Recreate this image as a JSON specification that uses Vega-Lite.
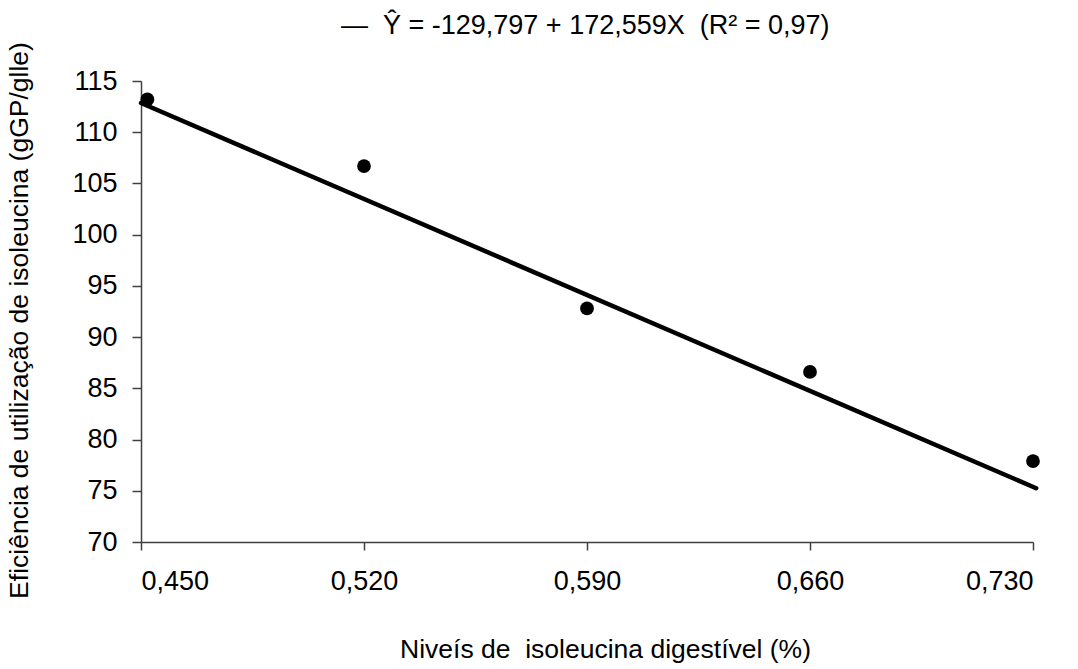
{
  "$schema": "https://vega.github.io/schema/vega-lite/v6.json",
  "width": 892,
  "height": 461,
  "autosize": "none",
  "padding": {"left": 141, "top": 81, "right": 45, "bottom": 127},
  "background": "white",
  "config": {"view": {"stroke": null}, "font": "Liberation Sans"},
  "title": {
    "text": "— \u00a0Ŷ = -129,797 + 172,559X \u00a0(R² = 0,97)",
    "anchor": "start",
    "frame": "group",
    "dx": 200,
    "offset": 2,
    "fontSize": 27,
    "fontWeight": "normal",
    "font": "Liberation Sans",
    "color": "black"
  },
  "datasets": {
    "pts": [
      {"x": 0.452, "y": 113.2},
      {"x": 0.520, "y": 106.7},
      {"x": 0.590, "y": 92.8},
      {"x": 0.660, "y": 86.6},
      {"x": 0.730, "y": 77.9}
    ],
    "fit": [
      {"x": 0.450, "y": 112.85},
      {"x": 0.731, "y": 75.25}
    ]
  },
  "encoding": {
    "x": {
      "field": "x", "type": "quantitative",
      "scale": {"domain": [0.45, 0.73], "nice": false, "zero": false},
      "axis": {
        "title": "Niveís de\u00a0 isoleucina digestível (%)",
        "values": [0.45, 0.52, 0.59, 0.66, 0.73],
        "labelExpr": "replace(format(datum.value, '.3f'), '.', ',')",
        "grid": false,
        "domainColor": "#404040", "domainWidth": 1.5,
        "tickColor": "#404040", "tickWidth": 1.5, "tickSize": 8,
        "labelFontSize": 27, "labelColor": "black", "labelPadding": 18,
        "labelFont": "Liberation Sans",
        "titleFontSize": 26.5, "titleFontWeight": "normal", "titleColor": "black",
        "titleFont": "Liberation Sans", "titlePadding": 42, "titleX": 464
      }
    },
    "y": {
      "field": "y", "type": "quantitative",
      "scale": {"domain": [70, 115], "nice": false, "zero": false},
      "axis": {
        "title": "Eficiência de utilização de isoleucina (gGP/glle)",
        "values": [70, 75, 80, 85, 90, 95, 100, 105, 110, 115],
        "grid": false,
        "domainColor": "#404040", "domainWidth": 1.5,
        "tickColor": "#404040", "tickWidth": 1.5, "tickSize": 9,
        "labelFontSize": 27, "labelColor": "black", "labelPadding": 15,
        "labelFont": "Liberation Sans",
        "titleFontSize": 26.5, "titleFontWeight": "normal", "titleColor": "black",
        "titleFont": "Liberation Sans", "titlePadding": 38, "titleY": 239
      }
    }
  },
  "layer": [
    {
      "data": {"name": "fit"},
      "mark": {"type": "line", "color": "black", "strokeWidth": 4.5, "strokeCap": "round"}
    },
    {
      "data": {"name": "pts"},
      "mark": {"type": "point", "filled": true, "color": "black", "opacity": 1, "size": 190}
    }
  ]
}
